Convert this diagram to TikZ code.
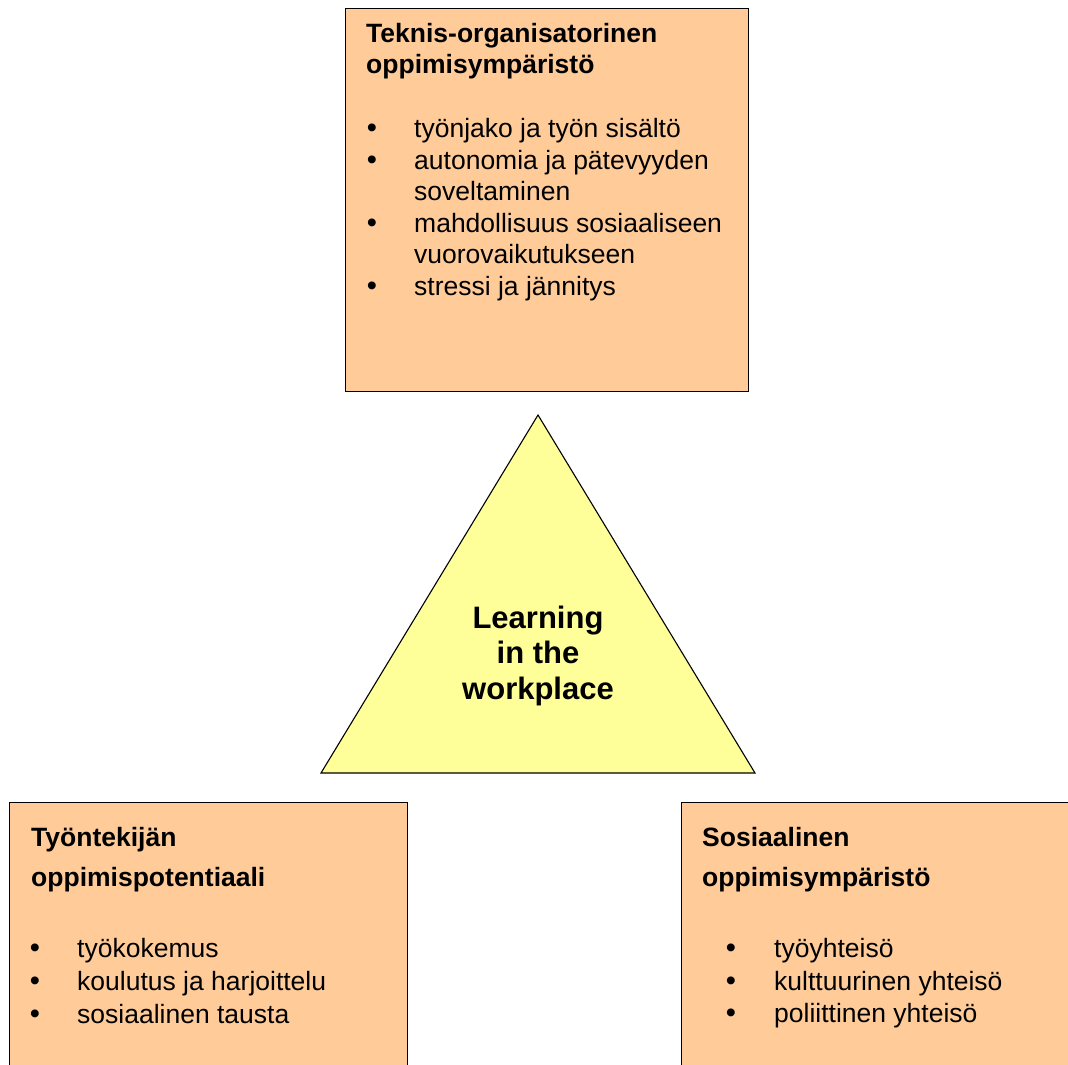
\documentclass[tikz,border=0pt]{standalone}
\usepackage{fontspec}
\setmainfont{Liberation Sans}
\definecolor{peach}{HTML}{FFCC99}
\definecolor{paleyellow}{HTML}{FFFF99}
\begin{document}
\begin{tikzpicture}[x=1pt,y=-1pt,
  panel/.style={draw=black,line width=1.2pt,fill=peach},
  heading/.style={anchor=base west,inner sep=0pt,font=\fontsize{26.5}{31.6}\selectfont\bfseries},
  item/.style={anchor=base west,inner sep=0pt,font=\fontsize{26.5}{31.6}\selectfont},
  dot/.style={anchor=base,inner sep=0pt,font=\fontsize{29}{31.6}\selectfont},
  core/.style={anchor=base,inner sep=0pt,font=\fontsize{31}{36}\selectfont\bfseries}]
\useasboundingbox (0,0) rectangle (1068,1065);
\clip (0,0) rectangle (1068,1065);

% three panels
\node[panel,anchor=north west,minimum width=403pt,minimum height=383pt,inner sep=0pt] (tech) at (345,8) {};
\node[panel,anchor=north west,minimum width=398pt,minimum height=290pt,inner sep=0pt] (worker) at (9,802) {};
\node[panel,anchor=north west,minimum width=400pt,minimum height=290pt,inner sep=0pt] (social) at (681,802) {};

% central triangle
\coordinate (apex) at (538,415);
\coordinate (bl) at (321,773);
\coordinate (br) at (755,773);
\draw[line width=1.1pt,fill=paleyellow,line join=miter] (apex) -- (br) -- (bl) -- cycle;
\node[core] (c1) at (538,628) {Learning};
\node[core] (c2) at (538,663) {in the};
\node[core] (c3) at (538,699) {workplace};

% technical-organisational environment
\node[heading] (t1) at (366,43) {Teknis-organisatorinen};
\node[heading] (t2) at (366,74) {oppimisympäristö};
\node[dot] (tb1) at (372,137) {•};
\node[item] (ti1) at (414,137) {työnjako ja työn sisältö};
\node[dot] (tb2) at (372,169) {•};
\node[item] (ti2) at (414,169) {autonomia ja pätevyyden};
\node[item] (ti2b) at (414,200) {soveltaminen};
\node[dot] (tb3) at (372,232) {•};
\node[item] (ti3) at (414,232) {mahdollisuus sosiaaliseen};
\node[item] (ti3b) at (414,263) {vuorovaikutukseen};
\node[dot] (tb4) at (372,295) {•};
\node[item] (ti4) at (414,295) {stressi ja jännitys};

% learning potential of the employee
\node[heading] (w1) at (31,846) {Työntekijän};
\node[heading] (w2) at (31,886) {oppimispotentiaali};
\node[dot] (wb1) at (35,957) {•};
\node[item] (wi1) at (77,957) {työkokemus};
\node[dot] (wb2) at (35,990) {•};
\node[item] (wi2) at (77,990) {koulutus ja harjoittelu};
\node[dot] (wb3) at (35,1023) {•};
\node[item] (wi3) at (77,1023) {sosiaalinen tausta};

% social learning environment
\node[heading] (s1) at (702,846) {Sosiaalinen};
\node[heading] (s2) at (702,886) {oppimisympäristö};
\node[dot] (sb1) at (731,957) {•};
\node[item] (si1) at (774,957) {työyhteisö};
\node[dot] (sb2) at (731,990) {•};
\node[item] (si2) at (774,990) {kulttuurinen yhteisö};
\node[dot] (sb3) at (731,1022) {•};
\node[item] (si3) at (774,1022) {poliittinen yhteisö};
\end{tikzpicture}
\end{document}
